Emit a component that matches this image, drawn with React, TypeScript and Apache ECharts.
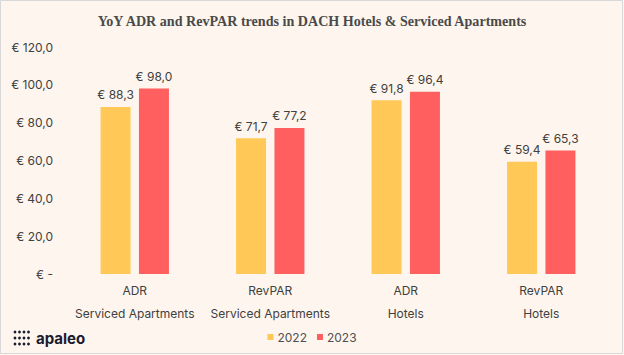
import React, { useEffect, useRef } from "react";
import * as echarts from "echarts";

const categories = [
  "ADR\nServiced Apartments",
  "RevPAR\nServiced Apartments",
  "ADR\nHotels",
  "RevPAR\nHotels",
];
const values2022 = [88.3, 71.7, 91.8, 59.4];
const values2023 = [98.0, 77.2, 96.4, 65.3];
const seriesNames = ["2022", "2023"];
const titleText = "YoY ADR and RevPAR trends in DACH Hotels & Serviced Apartments";

const fmtEuro = (v: number) =>
  v === 0 ? "€ -" : "€ " + v.toFixed(1).replace(".", ",");

export default function App() {
  const ref = useRef<HTMLDivElement>(null);
  useEffect(() => {
    if (!ref.current) return;
    const chart = echarts.init(ref.current, null, { renderer: "svg" });
    const textColor = "#404040";
    const font = "Inter";
    const dotCols = [15, 19.5, 24, 28.5];
    const dotRows = [332, 338, 344];
    const dots: any[] = [];
    dotRows.forEach((y) =>
      dotCols.forEach((x) =>
        dots.push({
          type: "circle",
          shape: { cx: x, cy: y, r: 1.4 },
          style: { fill: "#1b1b2f" },
          silent: true,
        })
      )
    );
    chart.setOption({
      animation: false,
      backgroundColor: "#FEF6EE",
      grid: { left: 67, right: 15, top: 47, bottom: 81, containLabel: false },
      legend: {
        data: seriesNames,
        left: "center",
        top: 326,
        itemWidth: 6,
        itemHeight: 6,
        itemGap: 10,
        icon: "rect",
        textStyle: { fontFamily: font, fontSize: 12, color: "#505050", padding: [0, 0, 0, -1] },
      },
      xAxis: {
        type: "category",
        data: categories,
        axisLine: { show: false },
        axisTick: { show: false },
        axisLabel: {
          interval: 0,
          fontFamily: font,
          fontSize: 12,
          color: textColor,
          lineHeight: 23,
          margin: 5,
        },
      },
      yAxis: {
        type: "value",
        min: 0,
        max: 120,
        interval: 20,
        splitLine: { show: false },
        axisLine: { show: false },
        axisTick: { show: false },
        axisLabel: {
          fontFamily: font,
          fontSize: 12,
          color: textColor,
          margin: 14,
          formatter: (v: number) => fmtEuro(v),
        },
      },
      series: [
        {
          name: seriesNames[0],
          type: "bar",
          data: values2022,
          barWidth: 30,
          barGap: "28%",
          itemStyle: { color: "#FFC857" },
          label: {
            show: true,
            position: "top",
            distance: 6,
            fontFamily: font,
            fontSize: 12,
            color: textColor,
            formatter: (p: any) => fmtEuro(p.value),
          },
        },
        {
          name: seriesNames[1],
          type: "bar",
          data: values2023,
          barWidth: 30,
          barGap: "28%",
          itemStyle: { color: "#FF5F5F" },
          label: {
            show: true,
            position: "top",
            distance: 6,
            fontFamily: font,
            fontSize: 12,
            color: textColor,
            formatter: (p: any) => fmtEuro(p.value),
          },
        },
      ],
      graphic: [
        {
          type: "rect",
          shape: { x: 0.5, y: 0.5, width: 622, height: 353 },
          style: { fill: "none", stroke: "#d8d8d8", lineWidth: 1 },
          silent: true,
        },
        {
          type: "text",
          x: 312,
          y: 21,
          scaleX: 0.94,
          style: {
            text: titleText,
            fontFamily: "Liberation Serif",
            fontSize: 15,
            fontWeight: 700,
            fill: "#4a4a4a",
            textAlign: "center",
            textVerticalAlign: "middle",
          },
          silent: true,
        },
        ...dots,
        {
          type: "text",
          x: 36,
          y: 338,
          style: {
            text: "apaleo",
            fontFamily: "Inter",
            fontSize: 15,
            fontWeight: 700,
            fill: "#1b1b2f",
            textVerticalAlign: "middle",
          },
          silent: true,
        },
      ],
    });
    return () => chart.dispose();
  }, []);
  return (
    <div
      ref={ref}
      style={{ position: "fixed", left: 0, top: 0, width: 624, height: 355 }}
    />
  );
}
